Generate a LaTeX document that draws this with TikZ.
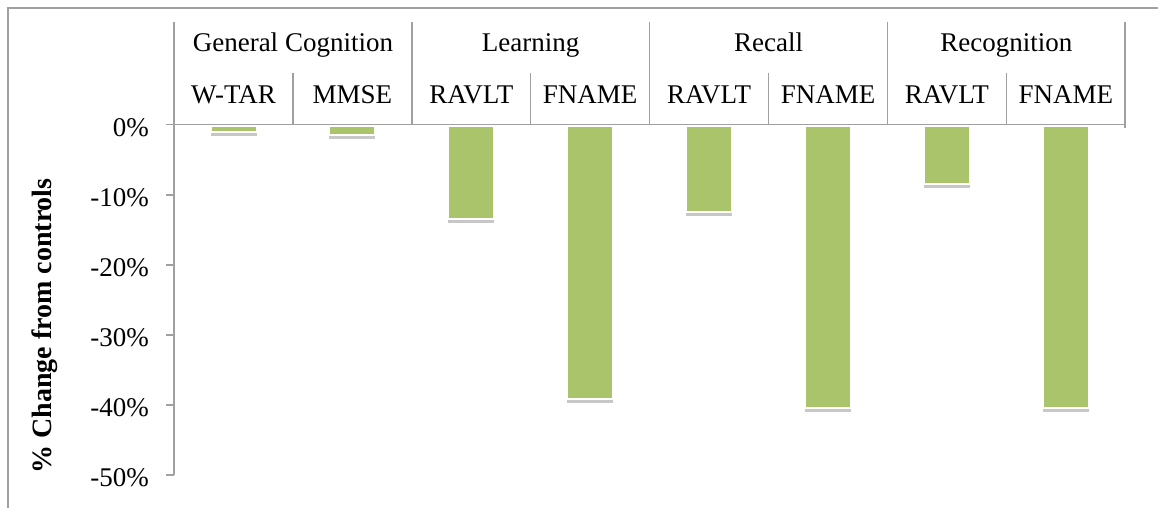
\documentclass[tikz,border=0pt]{standalone}
\usepackage{fontspec}
\setmainfont{Liberation Serif}
\usepackage{xcolor}
\usepackage{tikz}
\usetikzlibrary{shadows}

\definecolor{bargreen}{RGB}{170,196,108}
\definecolor{axisgray}{RGB}{160,160,160}

\begin{document}
\begin{tikzpicture}[
      x=1pt, y=-1pt,
      font=\fontsize{27}{31}\selectfont,
      axis/.style={draw=axisgray, line width=1.5pt},
      bar/.style={draw=white, line width=2pt, fill=bargreen, anchor=north,
                  minimum width=46pt, inner sep=0pt,
                  drop shadow={shadow xshift=0pt, shadow yshift=-4pt,
                               fill=black, opacity=.22}},
      pct/.style={minimum height=#1*7pt},
      lbl/.style={inner sep=0pt, anchor=base},
      ticklbl/.style={inner sep=0pt, anchor=base east},
    ]
    \useasboundingbox (0,0) rectangle (1158,508);

    % --- bars, hanging from the 0% line -----------------------------------
    \node[bar, pct=0.9]  (wtar)   at ( 233.5,124.5) {};
    \node[bar, pct=1.3]  (mmse)   at ( 352.4,124.5) {};
    \node[bar, pct=13.3] (lravlt) at ( 471.3,124.5) {};
    \node[bar, pct=39.1] (lfname) at ( 590.2,124.5) {};
    \node[bar, pct=12.3] (cravlt) at ( 709.1,124.5) {};
    \node[bar, pct=40.3] (cfname) at ( 828.0,124.5) {};
    \node[bar, pct=8.4]  (gravlt) at ( 946.9,124.5) {};
    \node[bar, pct=40.3] (gfname) at (1065.8,124.5) {};

    % --- frame and axes ---------------------------------------------------
    \draw[axis] (8,508) -- (8,8) -- (1158,8);
    \draw[axis] (174,22) -- (174,475);
    \draw[axis] (166,124.5) -- (1125.2,124.5) -- (1125.2,128)
                (166,195) -- (174,195)   (166,265) -- (174,265)
                (166,335) -- (174,335)   (166,405) -- (174,405)
                (166,475) -- (174,475);

    % --- header grid: groups on top, measures below -----------------------
    \draw[axis] (411.8,22) -- (411.8,124.5)  (649.6,22) -- (649.6,124.5)
                (887.4,22) -- (887.4,124.5)  (1125.2,22) -- (1125.2,124.5);
    \draw[axis] (292.9,73) -- (292.9,124.5)  (530.7,73) -- (530.7,124.5)
                (768.5,73) -- (768.5,124.5)  (1006.3,73) -- (1006.3,124.5);

    \node[lbl] (gen)   at ( 292.9,52) {General Cognition};
    \node[lbl] (learn) at ( 530.7,52) {Learning};
    \node[lbl] (recal) at ( 768.5,52) {Recall};
    \node[lbl] (recog) at (1006.3,52) {Recognition};

    \node[lbl] (wtarlbl)   at ( 233.5,103) {W-TAR};
    \node[lbl] (mmselbl)   at ( 352.4,103) {MMSE};
    \node[lbl] (lravltlbl) at ( 471.3,103) {RAVLT};
    \node[lbl] (lfnamelbl) at ( 590.2,103) {FNAME};
    \node[lbl] (cravltlbl) at ( 709.1,103) {RAVLT};
    \node[lbl] (cfnamelbl) at ( 828.0,103) {FNAME};
    \node[lbl] (gravltlbl) at ( 946.9,103) {RAVLT};
    \node[lbl] (gfnamelbl) at (1065.8,103) {FNAME};

    % --- value axis labels ------------------------------------------------
    \node[ticklbl] (t0) at (149,136.2) {0\%};
    \node[ticklbl] (t1) at (149,206.7) {-10\%};
    \node[ticklbl] (t2) at (149,276.7) {-20\%};
    \node[ticklbl] (t3) at (149,346.7) {-30\%};
    \node[ticklbl] (t4) at (149,416.7) {-40\%};
    \node[ticklbl] (t5) at (149,486.7) {-50\%};

    \node[rotate=90, font=\fontsize{28}{32}\selectfont\bfseries] (ytitle)
         at (45,326) {\% Change from controls};
  \end{tikzpicture}
\end{document}
